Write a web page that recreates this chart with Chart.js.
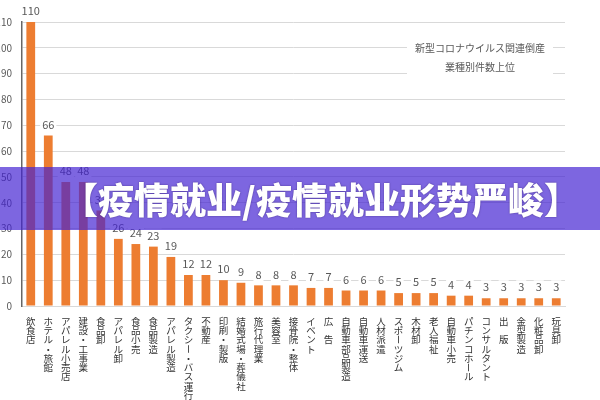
<!DOCTYPE html>
<html>
<head>
<meta charset="utf-8">
<script src="https://cdn.jsdelivr.net/npm/chart.js@4.4.0/dist/chart.umd.min.js"></script>
<style>
  html, body { margin: 0; padding: 0; background: #fff; }
  #wrap { width: 600px; height: 400px; position: relative; }
</style>
</head>
<body>
<div id="wrap"><canvas id="chart" width="600" height="400"></canvas></div>
<script>
// 業種 (categories)
const categories = [
  '飲食店', 'ホテル・旅館', 'アパレル小売店', '建設・工事業', '食品卸', 'アパレル卸',
  '食品小売', '食品製造', 'アパレル製造', 'タクシー・バス運行', '不動産', '印刷・製版',
  '結婚式場・葬儀社', '旅行代理業', '美容室', '接骨院・整体', 'イベント', '広　告',
  '自動車部品製造', '自動車運送', '人材派遣', 'スポーツジム', '木材卸', '老人福祉',
  '自動車小売', 'パチンコホール', 'コンサルタント', '出　版', '金型製造', '化粧品卸', '玩具卸'
]
// 件数
const counts = [110, 66, 48, 48, 37, 26, 24, 23, 19, 12, 12, 10, 9, 8, 8, 8, 7, 7, 6, 6, 6, 5, 5, 5, 4, 4, 3, 3, 3, 3, 3]
const yTicks = [0, 10, 20, 30, 40, 50, 60, 70, 80, 90, 100, 110]
const titleLines = ['新型コロナウイルス関連倒産', '業種別件数上位']
const bannerText = '【疫情就业/疫情就业形势严峻】'

const jpFont = '"Noto Sans CJK JP", "Noto Sans", sans-serif'

// value labels above bars, with white box behind (cuts the gridlines)
const valueLabels = {
  id: 'valueLabels',
  afterDatasetsDraw(chart) {
    const ctx = chart.ctx
    const meta = chart.getDatasetMeta(0)
    ctx.save()
    ctx.font = '11px ' + jpFont
    ctx.textAlign = 'center'
    ctx.textBaseline = 'middle'
    meta.data.forEach((bar, i) => {
      const txt = String(counts[i])
      const w = ctx.measureText(txt).width + 4
      const y = bar.y - 11
      ctx.fillStyle = '#fff'
      ctx.fillRect(bar.x - w / 2, y - 7, w, 14)
      ctx.fillStyle = '#595959'
      ctx.fillText(txt, bar.x, y)
    })
    ctx.restore()
  }
}

// vertical category labels + title + banner
const overlay = {
  id: 'overlay',
  afterDraw(chart) {
    const ctx = chart.ctx
    const xs = chart.scales.x
    ctx.save()
    // 縦書きラベル
    ctx.font = '9.5px ' + jpFont
    ctx.fillStyle = '#333'
    ctx.textAlign = 'center'
    ctx.textBaseline = 'middle'
    categories.forEach((lab, i) => {
      const x = xs.getPixelForValue(i)
      Array.from(lab).forEach((ch, j) => {
        const y = chart.chartArea.bottom + 15 + j * 9.3
        if (ch === 'ー') {
          ctx.save()
          ctx.translate(x, y)
          ctx.rotate(Math.PI / 2)
          ctx.fillText(ch, 0, 0)
          ctx.restore()
        } else {
          ctx.fillText(ch, x, y)
        }
      })
    })

    // title
    ctx.fillStyle = '#fff'
    ctx.fillRect(407, 38, 146, 40)
    ctx.font = '10px ' + jpFont
    ctx.fillStyle = '#595959'
    ctx.fillText(titleLines[0], 480, 48)
    ctx.fillText(titleLines[1], 480, 67)

    // banner
    ctx.fillStyle = 'rgba(66, 34, 210, 0.69)'
    ctx.fillRect(0, 167, 600, 63)
    ctx.font = '900 36px "Noto Sans CJK SC", sans-serif'
    ctx.shadowColor = 'rgba(40, 20, 90, 0.6)'
    ctx.shadowBlur = 2
    ctx.fillStyle = '#fff'
    ctx.fillText(bannerText, 321, 200)
    ctx.restore()
  }
}

new Chart(document.getElementById('chart'), {
  type: 'bar',
  data: {
    labels: categories,
    datasets: [{
      data: counts,
      backgroundColor: '#ED7D31',
      barPercentage: 0.5,
      categoryPercentage: 1.0
    }]
  },
  options: {
    responsive: false,
    animation: false,
    devicePixelRatio: 1,
    layout: { padding: { top: 22, right: 35, left: 0, bottom: 0 } },
    plugins: {
      legend: { display: false },
      tooltip: { enabled: false }
    },
    scales: {
      x: {
        grid: { display: false },
        border: { color: '#d9d9d9' },
        ticks: { display: false },
        afterFit(scale) { scale.height = 94 }
      },
      y: {
        min: 0,
        max: 110,
        afterBuildTicks(scale) { scale.ticks = yTicks.map(v => ({ value: v })) },
        grid: { color: '#d9d9d9', drawTicks: false },
        border: { color: '#666', width: 1.5 },
        ticks: { color: '#595959', font: { size: 10, family: jpFont }, padding: 10 },
        afterFit(scale) { scale.width = 22 }
      }
    }
  },
  plugins: [valueLabels, overlay]
})
</script>
</body>
</html>
